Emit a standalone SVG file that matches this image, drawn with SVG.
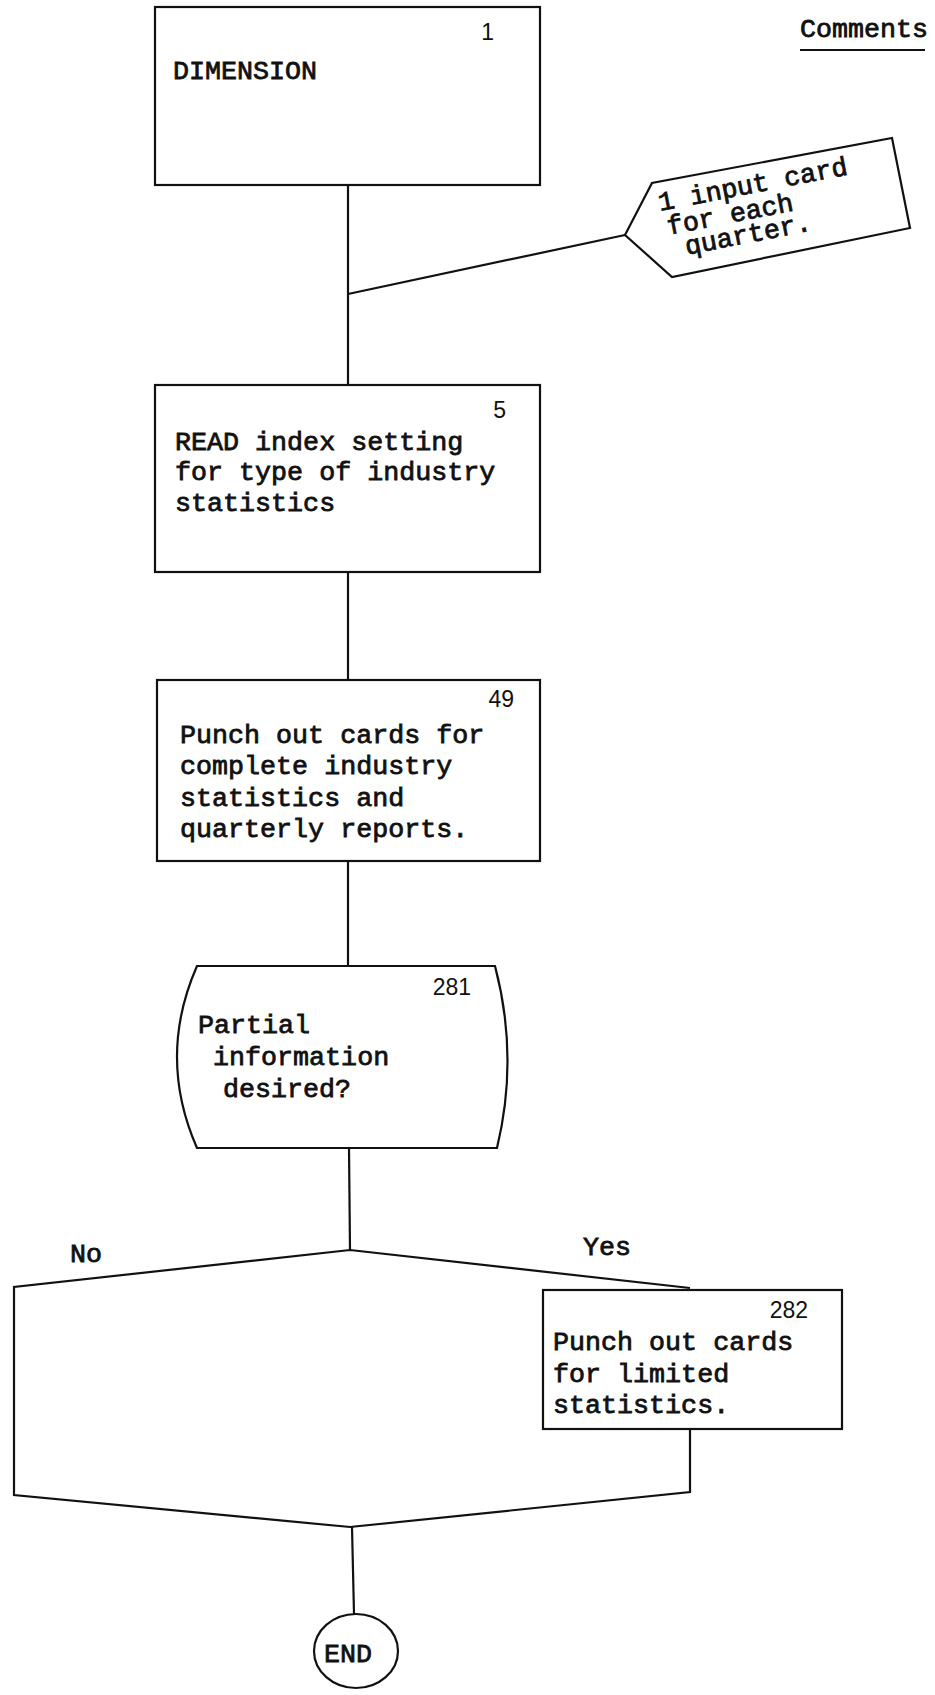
<svg xmlns="http://www.w3.org/2000/svg" width="935" height="1695" viewBox="0 0 935 1695">
  <style>
    .bg { fill: #ffffff; }
    .shape { fill: none; stroke: #111; stroke-width: 2.2; stroke-linejoin: miter; }
    .line { fill: none; stroke: #111; stroke-width: 2.2; }
    .tt { font-family: "Liberation Mono", "DejaVu Sans Mono", monospace; font-size: 26.7px; fill: #111; stroke: #111; stroke-width: 0.8; }
    .num { font-family: "Liberation Sans", Arial, sans-serif; font-size: 23px; fill: #111; text-anchor: end; }
  </style>
  <rect class="bg" x="0" y="0" width="935" height="1695"/>

  <!-- connectors -->
  <g id="connectors">
    <line class="line" x1="348" y1="185" x2="348" y2="385"/>
    <line class="line" x1="348" y1="294" x2="625" y2="235"/>
    <line class="line" x1="348" y1="572" x2="348" y2="680"/>
    <line class="line" x1="348" y1="861" x2="348" y2="966"/>
    <line class="line" x1="349" y1="1148" x2="350" y2="1250"/>
    <line class="line" x1="352" y1="1527" x2="354" y2="1614"/>
  </g>

  <!-- heading -->
  <g id="heading">
    <text class="tt" x="800" y="37" font-size="26">Comments</text>
    <line class="line" x1="800" y1="50" x2="925" y2="50" stroke-width="1.8"/>
  </g>

  <!-- block 1 -->
  <g id="n1">
    <rect class="shape" x="155" y="7" width="385" height="178"/>
    <text class="num" x="494" y="40">1</text>
    <text class="tt" x="173" y="79">DIMENSION</text>
  </g>

  <!-- comment flag -->
  <g id="note">
    <polygon class="shape" points="625,235 652,183 892,138 910,228 672,277"/>
    <g transform="translate(660,211) rotate(-11)">
      <text class="tt" x="0" y="0">1 input card</text>
      <text class="tt" x="4" y="25">for each</text>
      <text class="tt" x="18" y="48">quarter.</text>
    </g>
  </g>

  <!-- block 5 -->
  <g id="n5">
    <rect class="shape" x="155" y="385" width="385" height="187"/>
    <text class="num" x="506" y="418">5</text>
    <text class="tt" x="175" y="450">READ index setting</text>
    <text class="tt" x="175" y="480">for type of industry</text>
    <text class="tt" x="175" y="511">statistics</text>
  </g>

  <!-- block 49 -->
  <g id="n49">
    <rect class="shape" x="157" y="680" width="383" height="181"/>
    <text class="num" x="514" y="707">49</text>
    <text class="tt" x="180" y="743">Punch out cards for</text>
    <text class="tt" x="180" y="774">complete industry</text>
    <text class="tt" x="180" y="806">statistics and</text>
    <text class="tt" x="180" y="837">quarterly reports.</text>
  </g>

  <!-- decision 281 -->
  <g id="n281">
    <path class="shape" d="M197,966 L495,966 Q519,1057 497,1148 L197,1148 Q157,1057 197,966 Z"/>
    <text class="num" x="471" y="995">281</text>
    <text class="tt" x="198" y="1033">Partial</text>
    <text class="tt" x="213" y="1065">information</text>
    <text class="tt" x="223" y="1097">desired?</text>
  </g>

  <!-- branch frame -->
  <g id="branch">
    <polyline class="shape" points="690,1288 350,1250 14,1287 14,1495 350,1527 690,1492 690,1429"/>
    <text class="tt" x="70" y="1262">No</text>
    <text class="tt" x="583" y="1255">Yes</text>
  </g>

  <!-- block 282 -->
  <g id="n282">
    <rect class="shape" x="543" y="1290" width="299" height="139"/>
    <text class="num" x="808" y="1318">282</text>
    <text class="tt" x="553" y="1350">Punch out cards</text>
    <text class="tt" x="553" y="1382">for limited</text>
    <text class="tt" x="553" y="1413">statistics.</text>
  </g>

  <!-- terminal -->
  <g id="end">
    <ellipse class="shape" cx="356" cy="1651" rx="42" ry="37"/>
    <text class="tt" x="348" y="1662" text-anchor="middle" font-size="25">END</text>
  </g>
</svg>
